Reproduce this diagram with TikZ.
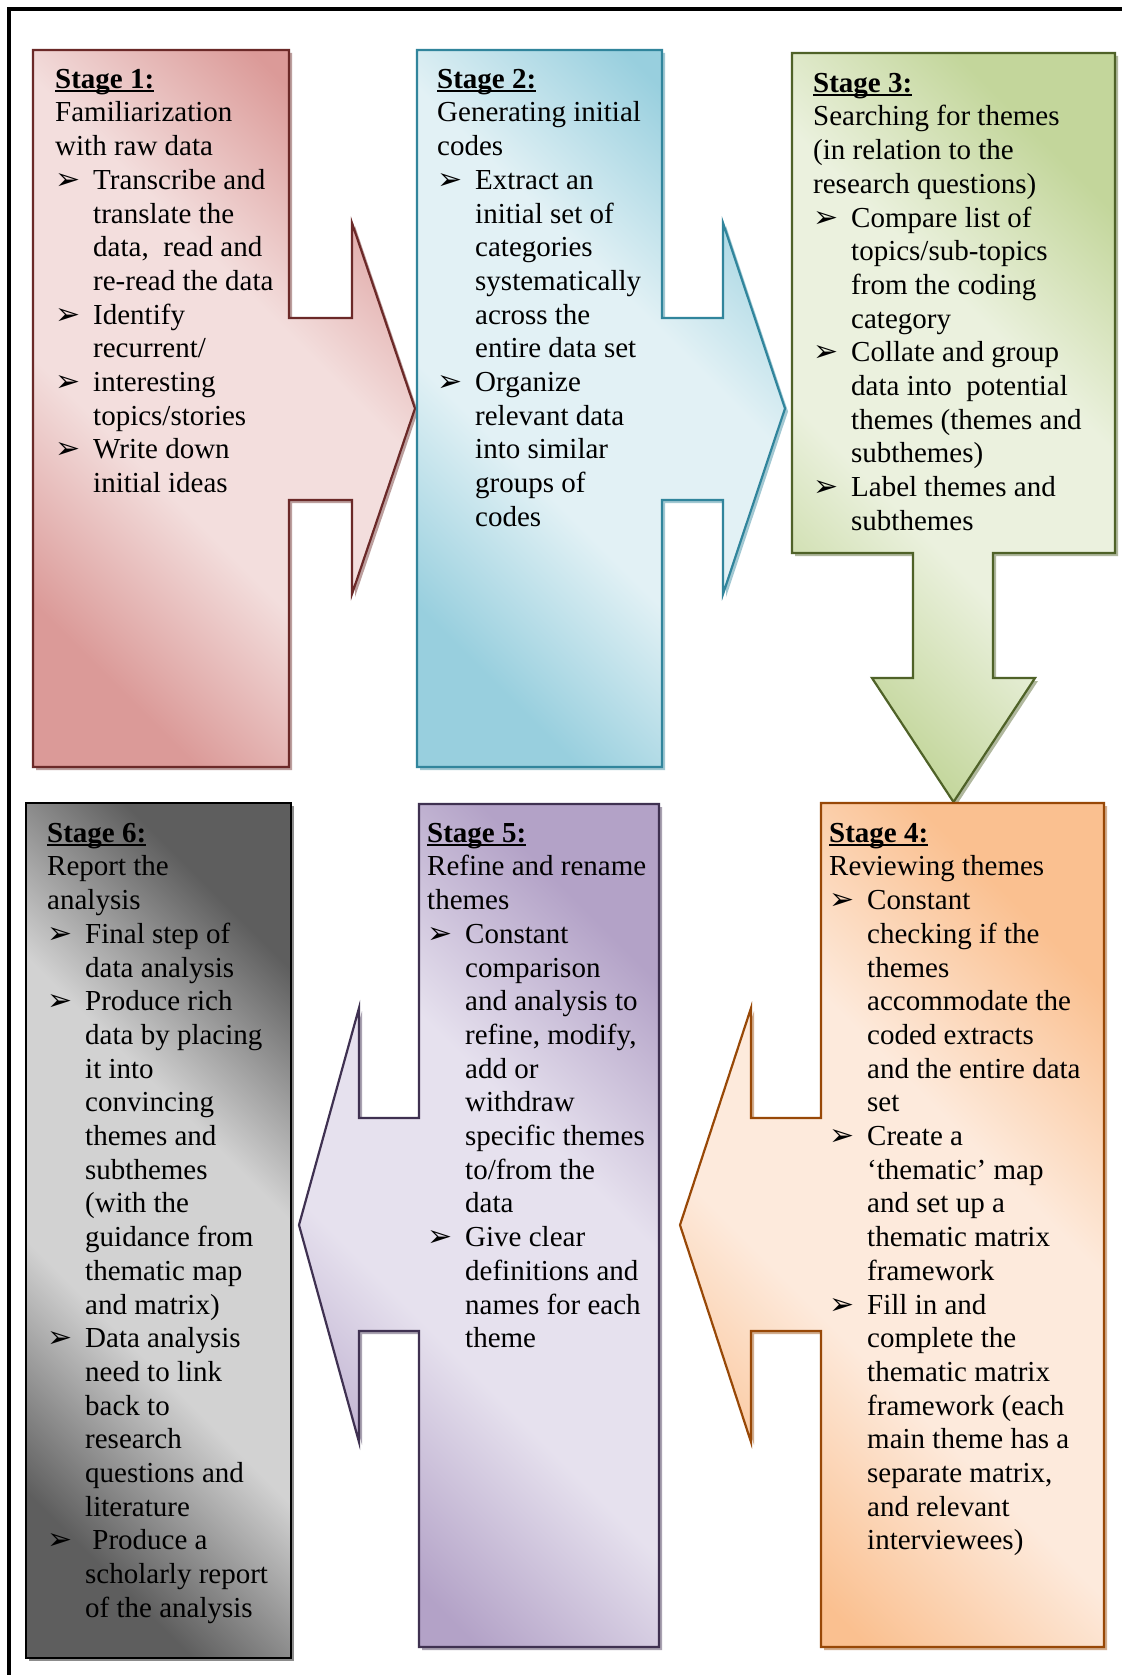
\documentclass[tikz,border=0pt]{standalone}
\usepackage{fontspec}
\setmainfont{Liberation Serif}
\newfontfamily\bulletfont{DejaVu Sans}

% stage colours: border, dark end of the fill, light middle of the fill
\definecolor{redline}{HTML}{6B2928}
\definecolor{reddark}{HTML}{DB9A98}
\definecolor{redlight}{HTML}{F3DEDD}
\definecolor{blueline}{HTML}{31859C}
\definecolor{bluedark}{HTML}{98CFDE}
\definecolor{bluelight}{HTML}{E2F1F5}
\definecolor{greenline}{HTML}{4F6228}
\definecolor{greendark}{HTML}{C3D69B}
\definecolor{greenlight}{HTML}{EBF1DE}
\definecolor{orangeline}{HTML}{984807}
\definecolor{orangedark}{HTML}{FAC090}
\definecolor{orangelight}{HTML}{FDEADC}
\definecolor{purpleline}{HTML}{3F3151}
\definecolor{purpledark}{HTML}{B3A2C7}
\definecolor{purplelight}{HTML}{E6E1EE}
\definecolor{greyline}{HTML}{000000}
\definecolor{greydark}{HTML}{5E5E5E}
\definecolor{greylight}{HTML}{D2D2D2}

% dark - light - dark fill, light band kept a little wider
\newcommand\declarefade[3]{%
  \pgfdeclareverticalshading{#1}{100bp}{color(0bp)=(#2); color(25bp)=(#2);
    color(41bp)=(#3); color(59bp)=(#3); color(75bp)=(#2); color(100bp)=(#2)}}
\declarefade{redfade}{reddark}{redlight}
\declarefade{bluefade}{bluedark}{bluelight}
\declarefade{greenfade}{greendark}{greenlight}
\declarefade{orangefade}{orangedark}{orangelight}
\declarefade{purplefade}{purpledark}{purplelight}
\declarefade{greyfade}{greydark}{greylight}

% list markers and indentation
\newcommand\sbul{\makebox[38pt][l]{\raisebox{0pt}{\bulletfont\fontsize{30}{30}\selectfont ➢}}}
\newcommand\sind{\hspace*{38pt}}
\newcommand\firststrut{\rule{0pt}{24pt}}
\newlength\stageheadwd
\newcommand\stagehead[1]{\firststrut\settowidth{\stageheadwd}{\bfseries #1}\rlap{\rule[-3.5pt]{\stageheadwd}{1.8pt}}{\bfseries #1}}

% one stage shape: offset shadow, then shaded outline
% #1 border, #2 shading, #3 path
\newcommand\stageshape[3]{%
  \fill[#1!45!white, shift={(3,3)}] #3;
  \shadedraw[draw=#1, line width=2.2pt, line join=miter,
    shading=#2, shading angle=-45] #3;
}

\tikzset{
  stagetext/.style={anchor=north west, inner sep=0pt, align=left,
    font=\fontsize{29}{33.7}\selectfont},
}

\begin{document}
\begin{tikzpicture}[x=1pt, y=-1pt]
\fill[white] (0,0) rectangle (1122,1675);
\useasboundingbox (0,0) rectangle (1122,1675);

% outer frame
\draw[line width=3.5pt] (9,1675) -- (9,9) -- (1122,9);

% Stage 1: box with arrow to the right
\stageshape{redline}{redfade}{(33,50) -- (289,50) -- (289,318) -- (352,318) -- (352,223) -- (415,408.5) -- (352,594) -- (352,500) -- (289,500) -- (289,767) -- (33,767) -- cycle}

% Stage 2: box with arrow to the right
\stageshape{blueline}{bluefade}{(417,50) -- (662,50) -- (662,318) -- (723,318) -- (723,223) -- (785,408.5) -- (723,594) -- (723,500) -- (662,500) -- (662,767) -- (417,767) -- cycle}

% Stage 3: box with arrow downwards
\stageshape{greenline}{greenfade}{(792,53) -- (1115,53) -- (1115,553) -- (993,553) -- (993,678) -- (1035,678) -- (953.5,802) -- (872,678) -- (913,678) -- (913,553) -- (792,553) -- cycle}

% Stage 4: box with arrow to the left
\stageshape{orangeline}{orangefade}{(821,803) -- (1104,803) -- (1104,1647) -- (821,1647) -- (821,1331) -- (751,1331) -- (751,1442) -- (680,1225) -- (751,1008) -- (751,1118) -- (821,1118) -- cycle}

% Stage 5: box with arrow to the left
\stageshape{purpleline}{purplefade}{(419,804) -- (659,804) -- (659,1647) -- (419,1647) -- (419,1331) -- (359,1331) -- (359,1442) -- (299,1225) -- (359,1008) -- (359,1118) -- (419,1118) -- cycle}

% Stage 6: plain box
\stageshape{greyline}{greyfade}{(26,803) -- (291,803) -- (291,1658) -- (26,1658) -- cycle}

% texts
\node[stagetext] (s1) at (55,64) {\stagehead{Stage 1:}\\
Familiarization\\
with raw data\\
\sbul Transcribe and\\
\sind translate the\\
\sind data,\ \ read and\\
\sind re-read the data\\
\sbul Identify\\
\sind recurrent/\\
\sbul interesting\\
\sind topics/stories\\
\sbul Write down\\
\sind initial ideas};

\node[stagetext] (s2) at (437,64) {\stagehead{Stage 2:}\\
Generating initial\\
codes\\
\sbul Extract an\\
\sind initial set of\\
\sind categories\\
\sind systematically\\
\sind across the\\
\sind entire data set\\
\sbul Organize\\
\sind relevant data\\
\sind into similar\\
\sind groups of\\
\sind codes};

\node[stagetext] (s3) at (813,68) {\stagehead{Stage 3:}\\
Searching for themes\\
(in relation to the\\
research questions)\\
\sbul Compare list of\\
\sind topics/sub-topics\\
\sind from the coding\\
\sind category\\
\sbul Collate and group\\
\sind data into\ \ potential\\
\sind themes (themes and\\
\sind subthemes)\\
\sbul Label themes and\\
\sind subthemes};

\node[stagetext] (s4) at (829,818) {\stagehead{Stage 4:}\\
Reviewing themes\\
\sbul Constant\\
\sind checking if the\\
\sind themes\\
\sind accommodate the\\
\sind coded extracts\\
\sind and the entire data\\
\sind set\\
\sbul Create a\\
\sind ‘thematic’ map\\
\sind and set up a\\
\sind thematic matrix\\
\sind framework\\
\sbul Fill in and\\
\sind complete the\\
\sind thematic matrix\\
\sind framework (each\\
\sind main theme has a\\
\sind separate matrix,\\
\sind and relevant\\
\sind interviewees)};

\node[stagetext] (s5) at (427,818) {\stagehead{Stage 5:}\\
Refine and rename\\
themes\\
\sbul Constant\\
\sind comparison\\
\sind and analysis to\\
\sind refine, modify,\\
\sind add or\\
\sind withdraw\\
\sind specific themes\\
\sind to/from the\\
\sind data\\
\sbul Give clear\\
\sind definitions and\\
\sind names for each\\
\sind theme};

\node[stagetext] (s6) at (47,818) {\stagehead{Stage 6:}\\
Report the\\
analysis\\
\sbul Final step of\\
\sind data analysis\\
\sbul Produce rich\\
\sind data by placing\\
\sind it into\\
\sind convincing\\
\sind themes and\\
\sind subthemes\\
\sind (with the\\
\sind guidance from\\
\sind thematic map\\
\sind and matrix)\\
\sbul Data analysis\\
\sind need to link\\
\sind back to\\
\sind research\\
\sind questions and\\
\sind literature\\
\sbul \ Produce a\\
\sind scholarly report\\
\sind of the analysis};
\end{tikzpicture}
\end{document}
